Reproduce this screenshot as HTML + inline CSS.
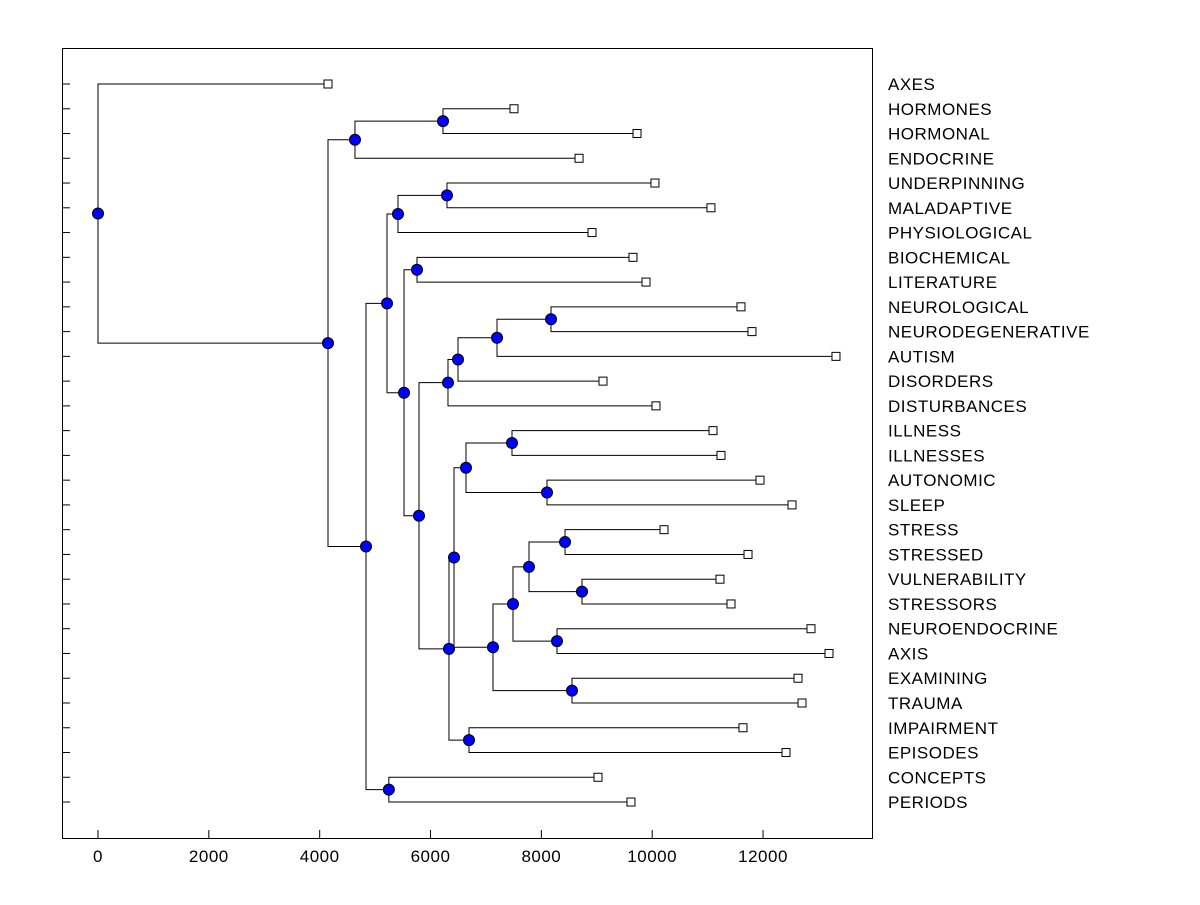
<!DOCTYPE html>
<html><head><meta charset="utf-8"><style>
body{margin:0;background:#fff}
svg text{font-family:"Liberation Sans",Arial,sans-serif;font-size:17px;letter-spacing:0.5px;fill:#000}
</style></head><body>
<svg id="chart" width="1200" height="900" viewBox="0 0 1200 900" xmlns="http://www.w3.org/2000/svg">
<rect x="62.5" y="48.5" width="810" height="790" fill="none" stroke="#000" stroke-width="1"/>
<g id="g"></g>
</svg>
<script>
const leaves=["AXES","HORMONES","HORMONAL","ENDOCRINE","UNDERPINNING","MALADAPTIVE","PHYSIOLOGICAL","BIOCHEMICAL","LITERATURE","NEUROLOGICAL","NEURODEGENERATIVE","AUTISM","DISORDERS","DISTURBANCES","ILLNESS","ILLNESSES","AUTONOMIC","SLEEP","STRESS","STRESSED","VULNERABILITY","STRESSORS","NEUROENDOCRINE","AXIS","EXAMINING","TRAUMA","IMPAIRMENT","EPISODES","CONCEPTS","PERIODS"];
const leafValues=[4150,7506,9726,8680,10050,11060,8914,9653,9888,11602,11800,13316,9112,10068,11097,11241,11945,12522,10213,11729,11223,11422,12865,13190,12631,12703,11638,12414,9022,9617];
const mergeLeft=[1,30,4,32,7,9,35,36,37,14,16,39,18,20,42,22,44,24,46,41,26,49,38,34,33,28,54,31,0];
const mergeRight=[2,3,5,6,8,10,11,12,13,15,17,40,19,21,43,23,45,25,47,48,27,50,51,52,53,29,55,56,57];
const mergeHeight=[6225,4637,6297,5413,5756,8174,7200,6496,6315,7470,8102,6640,8427,8733,7777,8282,7488,8553,7127,6424,6694,6333,5792,5522,5215,5248,4836,4150,0];
const xTicks=[0,2000,4000,6000,8000,10000,12000];
const NS="http://www.w3.org/2000/svg";
const g=document.getElementById('g');
const X=v=>98+v*0.05542;
const Y=i=>84+i*24.76;
function mk(t,a,p){const e=document.createElementNS(NS,t);for(const k in a)e.setAttribute(k,a[k]);(p||g).appendChild(e);return e;}
const N=leaves.length;
const nx=[],ny=[];
leaves.forEach((l,i)=>{nx[i]=X(leafValues[i]);ny[i]=Y(i);});
mergeHeight.forEach((h,k)=>{const a=mergeLeft[k],b=mergeRight[k];nx[N+k]=X(h);ny[N+k]=(ny[a]+ny[b])/2;});
mergeHeight.forEach((h,k)=>{
  const a=mergeLeft[k],b=mergeRight[k],px=nx[N+k];
  const p=mk('path',{d:`M${nx[a]},${ny[a]}H${px}V${ny[b]}H${nx[b]}`,fill:'none',stroke:'#000','stroke-width':1});
  
  
});
leaves.forEach((l,i)=>{
  const t=mk('line',{x1:62,x2:70,y1:Y(i),y2:Y(i),stroke:'#000'});
  
  
  const s=mk('rect',{x:nx[i]-4,y:ny[i]-4,width:8,height:8,fill:'#fff',stroke:'#000'});
  
  
  const tx=mk('text',{x:888,y:Y(i)+6});
  tx.textContent=l;
  
  
});
mergeHeight.forEach((h,k)=>{
  const c=mk('circle',{cx:nx[N+k],cy:ny[N+k],r:5.5,fill:'#0000ff',stroke:'#000'});
  
  
});
xTicks.forEach(v=>{
  const t=mk('line',{x1:X(v),x2:X(v),y1:830,y2:838,stroke:'#000'});
  
  
  const tx=mk('text',{x:X(v),y:862,'text-anchor':'middle'});
  tx.textContent=v;
  
  
});
</script>
</body></html>
